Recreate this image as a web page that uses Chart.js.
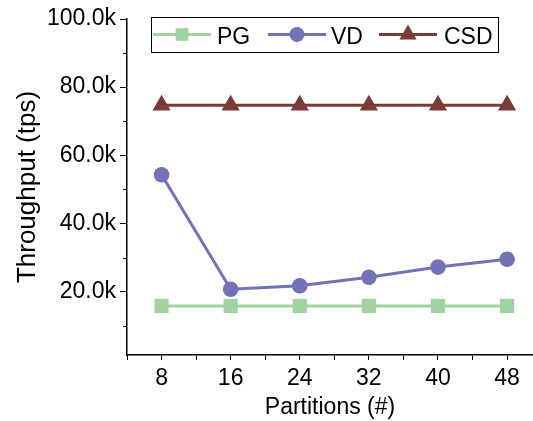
<!DOCTYPE html>
<html>
<head>
<meta charset="utf-8">
<script src="https://cdn.jsdelivr.net/npm/chart.js@4/dist/chart.umd.min.js"></script>
<style>
  body { margin: 0; background: #fff; overflow: hidden; }
</style>
</head>
<body>
<canvas id="lineChart" width="533" height="421"></canvas>
<script>
// data
let partitions = [8, 16, 24, 32, 40, 48];
let pgVals = [15800, 15800, 15800, 15800, 15800, 15800];
let vdVals = [54300, 20700, 21700, 24200, 27200, 29500];
let csdVals = [74700, 74700, 74700, 74700, 74700, 74700];
let yTicks = [20000, 40000, 60000, 80000, 100000];
let yMinorTicks = [10000, 30000, 50000, 70000, 90000];
let xTicks = [4, 8, 12, 16, 20, 24, 28, 32, 36, 40, 44, 48];

let seriesNames = ['PG', 'VD', 'CSD'];
let seriesColors = ['#9fd3a0', '#7272b6', '#7b3a37'];
let seriesShapes = ['rect', 'circle', 'triangle'];
let seriesSizes = [10, 7.8, 10.5];

let fontFam = '"Liberation Sans", Arial, sans-serif';

function toPoints(vals) {
    let pts = [];
    for (let i in partitions) {
        pts.push({ x: partitions[i], y: vals[i] });
    }
    return pts;
}

let allVals = [pgVals, vdVals, csdVals];
let datasets = [];
for (let i in seriesNames) {
    datasets.push({
        label: seriesNames[i],
        data: toPoints(allVals[i]),
        borderColor: seriesColors[i],
        backgroundColor: seriesColors[i],
        borderWidth: 3,
        pointStyle: seriesShapes[i],
        pointRadius: seriesSizes[i],
        pointBorderWidth: 0,
        pointHoverRadius: seriesSizes[i]
    });
}

// short unlabeled ticks on the y axis
let minorTicks = {
    id: 'minorTicks',
    afterDraw(chart) {
        let ctx = chart.ctx;
        let y = chart.scales.y;
        let left = chart.chartArea.left;
        ctx.save();
        ctx.strokeStyle = '#000';
        ctx.lineWidth = 1;
        for (let v of yMinorTicks) {
            let py = Math.round(y.getPixelForValue(v)) + 0.5;
            ctx.beginPath();
            ctx.moveTo(left, py);
            ctx.lineTo(left - 4, py);
            ctx.stroke();
        }
        ctx.restore();
    }
};

// legend in a box drawn at the top of the plot
let boxLegend = {
    id: 'boxLegend',
    afterDraw(chart) {
        let ctx = chart.ctx;
        ctx.save();
        ctx.strokeStyle = '#000';
        ctx.lineWidth = 1;
        ctx.strokeRect(151.5, 17.5, 347, 35);
        let starts = [153, 268, 379];
        let textX = [217, 331, 444];
        let legendSizes = [9, 7.5, 10];
        ctx.font = '23px ' + fontFam;
        ctx.textBaseline = 'alphabetic';
        for (let i in seriesNames) {
            let x0 = starts[i];
            ctx.strokeStyle = seriesColors[i];
            ctx.lineWidth = 3;
            ctx.beginPath();
            ctx.moveTo(x0, 34.5);
            ctx.lineTo(x0 + 58, 34.5);
            ctx.stroke();
            ctx.fillStyle = seriesColors[i];
            Chart.helpers.drawPoint(ctx, {
                pointStyle: seriesShapes[i],
                radius: legendSizes[i],
                borderWidth: 0
            }, x0 + 29, 34.5);
            ctx.fillStyle = '#000';
            ctx.fillText(seriesNames[i], textX[i], 43.5);
        }
        ctx.restore();
    }
};

let chartCtx = document.getElementById('lineChart').getContext('2d');
let myChart = new Chart(chartCtx, {
    type: 'line',
    data: { datasets: datasets },
    options: {
        responsive: false,
        animation: false,
        layout: { autoPadding: false, padding: { top: 19, right: 0, left: 0, bottom: 0 } },
        plugins: { legend: { display: false }, tooltip: { enabled: false } },
        scales: {
            x: {
                type: 'linear',
                min: 4,
                max: 51,
                afterBuildTicks(scale) { scale.ticks = xTicks.map(v => ({ value: v })); },
                afterFit(scale) { scale.height = 66; scale.paddingRight = 0; scale.paddingLeft = 0; },
                border: { color: '#000', width: 1.5 },
                grid: { drawOnChartArea: false, tickLength: 5, color: '#000', tickWidth: 1 },
                ticks: {
                    color: '#000',
                    padding: 5,
                    maxRotation: 0,
                    autoSkip: false,
                    font: { size: 23, family: fontFam },
                    callback: v => (v % 8 === 0 && v >= 8 && v <= 48) ? String(v) : ''
                },
                title: {
                    display: true,
                    text: 'Partitions (#)',
                    color: '#000',
                    padding: { top: 0, bottom: 0 },
                    font: { size: 23, family: fontFam }
                }
            },
            y: {
                min: 1400,
                max: 100000,
                afterBuildTicks(scale) { scale.ticks = yTicks.map(v => ({ value: v })); },
                afterFit(scale) { scale.width = 127; },
                border: { color: '#000', width: 1.5 },
                grid: { drawOnChartArea: false, tickLength: 7, color: '#000', tickWidth: 1 },
                ticks: {
                    color: '#000',
                    padding: 4,
                    autoSkip: false,
                    font: { size: 23, family: fontFam },
                    callback: v => (v / 1000).toFixed(1) + 'k'
                },
                title: {
                    display: true,
                    text: 'Throughput (tps)',
                    color: '#000',
                    padding: { top: 12, bottom: 0 },
                    font: { size: 26, family: fontFam }
                }
            }
        }
    },
    plugins: [minorTicks, boxLegend]
});
</script>
</body>
</html>
